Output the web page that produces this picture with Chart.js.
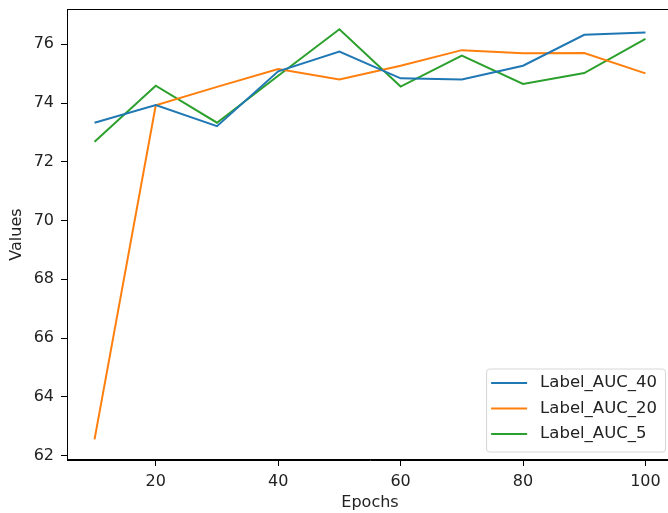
<!DOCTYPE html>
<html>
<head>
<meta charset="utf-8">
<script src="https://cdn.jsdelivr.net/npm/chart.js@4"></script>
<style>
  html, body { margin: 0; padding: 0; background: #fff; overflow: hidden; }
  #wrap { width: 668px; height: 513px; overflow: hidden; }
</style>
</head>
<body>
<div id="wrap"><canvas id="chart" width="680" height="513"></canvas></div>
<script>
const epochs = [10, 20, 30, 40, 50, 60, 70, 80, 90, 100];
const auc40 = [73.33, 73.93, 73.21, 75.08, 75.75, 74.84, 74.80, 75.27, 76.32, 76.40];
const auc20 = [62.55, 73.92, 74.55, 75.16, 74.80, 75.27, 75.80, 75.69, 75.70, 75.01];
const auc5 = [72.68, 74.59, 73.33, 74.93, 76.51, 74.56, 75.61, 74.65, 75.02, 76.18];
const xTicks = [20, 40, 60, 80, 100];
const yTicks = [62, 64, 66, 68, 70, 72, 74, 76];

const FONT = 'DejaVu Sans';
const FS = 16;

const toPoints = vals => vals.map((v, i) => ({ x: epochs[i], y: v }));

// full box round the plot area, like matplotlib spines
const frame = {
  id: 'frame',
  afterDraw(chart) {
    const { ctx, chartArea: a } = chart;
    ctx.save();
    ctx.strokeStyle = '#000';
    ctx.lineWidth = 1;
    ctx.strokeRect(a.left + 0.5, a.top + 0.5, a.right - a.left - 1, a.bottom - a.top - 1);
    ctx.restore();
  }
};

// legend boxed inside the lower right corner
const innerLegend = {
  id: 'innerLegend',
  afterDraw(chart) {
    const { ctx, chartArea: a } = chart;
    const sets = chart.data.datasets;
    ctx.save();
    ctx.font = `16.5px "${FONT}"`;
    const textW = Math.max(...sets.map(d => ctx.measureText(d.label).width));
    const rowH = 25.5, lineW = 36, gap = 13, padL = 5, padR = 8;
    const w = padL + lineW + gap + textW + padR;
    const h = 83;
    const x = a.right - 8 - w, y = a.bottom - 8.5 - h;
    ctx.fillStyle = 'rgba(255,255,255,0.8)';
    ctx.strokeStyle = '#d6d6d6';
    ctx.lineWidth = 1;
    ctx.beginPath();
    ctx.roundRect(x + 0.5, y + 0.5, w, h, 3);
    ctx.fill();
    ctx.stroke();
    sets.forEach((d, i) => {
      const cy = y + 14.5 + i * rowH;
      ctx.strokeStyle = d.borderColor;
      ctx.lineWidth = 2;
      ctx.beginPath();
      ctx.moveTo(x + padL, cy);
      ctx.lineTo(x + padL + lineW, cy);
      ctx.stroke();
      ctx.fillStyle = '#222';
      ctx.textBaseline = 'middle';
      ctx.fillText(d.label, x + padL + lineW + gap, cy);
    });
    ctx.restore();
  }
};

new Chart(document.getElementById('chart'), {
  type: 'line',
  data: {
    datasets: [
      { label: 'Label_AUC_40', data: toPoints(auc40), borderColor: '#1f77b4' },
      { label: 'Label_AUC_20', data: toPoints(auc20), borderColor: '#ff7f0e' },
      { label: 'Label_AUC_5', data: toPoints(auc5), borderColor: '#2ca02c' }
    ]
  },
  options: {
    responsive: false,
    animation: false,
    layout: { padding: { top: 9, right: 7, left: 0, bottom: 0 } },
    elements: {
      line: { borderWidth: 2, tension: 0, fill: false },
      point: { radius: 0 }
    },
    plugins: { legend: { display: false }, tooltip: { enabled: false } },
    scales: {
      x: {
        type: 'linear',
        min: 5.5,
        max: 104.5,
        afterBuildTicks: s => { s.ticks = xTicks.map(v => ({ value: v })); },
        afterFit: s => { s.height = 53; s.paddingLeft = 0; s.paddingRight = 0; },
        grid: { drawOnChartArea: false, drawTicks: true, tickLength: 6, color: '#000' },
        border: { color: '#000', width: 1 },
        ticks: { color: '#222', padding: 6, maxRotation: 0, font: { family: FONT, size: FS } },
        title: { display: true, text: 'Epochs', color: '#222', padding: { top: 0, bottom: 1 }, font: { family: FONT, size: FS } }
      },
      y: {
        min: 61.85,
        max: 77.2,
        afterBuildTicks: s => { s.ticks = yTicks.map(v => ({ value: v })); },
        afterFit: s => { s.width = 67; s.paddingTop = 0; s.paddingBottom = 0; },
        grid: { drawOnChartArea: false, drawTicks: true, tickLength: 6, color: '#000' },
        border: { color: '#000', width: 1 },
        ticks: { color: '#222', padding: 7, font: { family: FONT, size: FS } },
        title: { display: true, text: 'Values', color: '#222', padding: { top: 7, bottom: 0 }, font: { family: FONT, size: FS } }
      }
    }
  },
  plugins: [frame, innerLegend]
});
</script>
</body>
</html>
